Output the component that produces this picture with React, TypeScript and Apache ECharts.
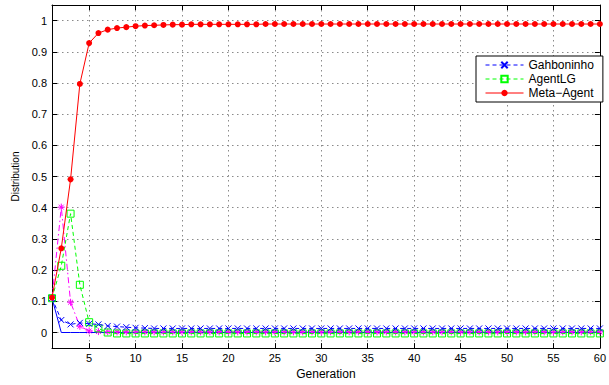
import React, { useEffect, useRef } from "react";
import * as echarts from "echarts";

const generations = [
  1, 2, 3, 4, 5, 6, 7, 8, 9, 10, 11, 12, 13, 14, 15, 16, 17, 18, 19, 20,
  21, 22, 23, 24, 25, 26, 27, 28, 29, 30, 31, 32, 33, 34, 35, 36, 37, 38, 39, 40,
  41, 42, 43, 44, 45, 46, 47, 48, 49, 50, 51, 52, 53, 54, 55, 56, 57, 58, 59, 60,
];

const metaAgent = [
  0.112, 0.27, 0.491, 0.797, 0.928, 0.96, 0.971, 0.976, 0.979, 0.982, 0.984, 0.985, 0.986, 0.987, 0.987, 0.988, 0.988, 0.988, 0.988, 0.988,
  0.988, 0.988, 0.988, 0.989, 0.989, 0.989, 0.989, 0.989, 0.989, 0.989, 0.989, 0.989, 0.989, 0.989, 0.989, 0.989, 0.989, 0.989, 0.989, 0.989,
  0.989, 0.989, 0.989, 0.989, 0.989, 0.989, 0.989, 0.989, 0.989, 0.989, 0.989, 0.989, 0.989, 0.989, 0.989, 0.989, 0.989, 0.989, 0.989, 0.989,
];

const gahboninho = [
  0.11, 0.04, 0.026, 0.031, 0.028, 0.026, 0.021, 0.019, 0.017, 0.015, 0.014, 0.013, 0.013, 0.013, 0.013, 0.013, 0.013, 0.013, 0.013, 0.013,
  0.013, 0.013, 0.013, 0.013, 0.013, 0.013, 0.013, 0.013, 0.013, 0.013, 0.013, 0.013, 0.013, 0.013, 0.013, 0.013, 0.013, 0.013, 0.013, 0.013,
  0.013, 0.013, 0.013, 0.013, 0.013, 0.013, 0.013, 0.013, 0.013, 0.013, 0.013, 0.013, 0.013, 0.013, 0.013, 0.013, 0.013, 0.013, 0.013, 0.013,
];

const agentLG = [
  0.11, 0.214, 0.381, 0.153, 0.033, 0.013, 0.0, -0.003, -0.003, -0.003, -0.003, -0.003, -0.003, -0.003, -0.003, -0.003, -0.003, -0.003, -0.003, -0.003,
  -0.003, -0.003, -0.003, -0.003, -0.003, -0.003, -0.003, -0.003, -0.003, -0.003, -0.003, -0.003, -0.003, -0.003, -0.003, -0.003, -0.003, -0.003, -0.003, -0.003,
  -0.003, -0.003, -0.003, -0.003, -0.003, -0.003, -0.003, -0.003, -0.003, -0.003, -0.003, -0.003, -0.003, -0.003, -0.003, -0.003, -0.003, -0.003, -0.003, -0.003,
];

const magentaAgent = [
  0.11, 0.402, 0.097, 0.02, 0.005, 0.003, 0.002, 0.002, 0.002, 0.002, 0.002, 0.002, 0.002, 0.002, 0.002, 0.002, 0.002, 0.002, 0.002, 0.002,
  0.002, 0.002, 0.002, 0.002, 0.002, 0.002, 0.002, 0.002, 0.002, 0.002, 0.002, 0.002, 0.002, 0.002, 0.002, 0.002, 0.002, 0.002, 0.002, 0.002,
  0.002, 0.002, 0.002, 0.002, 0.002, 0.002, 0.002, 0.002, 0.002, 0.002, 0.002, 0.002, 0.002, 0.002, 0.002, 0.002, 0.002, 0.002, 0.002, 0.002,
];

const blueSolid = [
  0.11, 0, 0, 0, 0, 0, 0, 0, 0, 0, 0, 0, 0, 0, 0, 0, 0, 0, 0, 0,
  0, 0, 0, 0, 0, 0, 0, 0, 0, 0, 0, 0, 0, 0, 0, 0, 0, 0, 0, 0,
  0, 0, 0, 0, 0, 0, 0, 0, 0, 0, 0, 0, 0, 0, 0, 0, 0, 0, 0, 0,
];

const xTicks = [5, 10, 15, 20, 25, 30, 35, 40, 45, 50, 55, 60];
const yTicks = [0, 0.1, 0.2, 0.3, 0.4, 0.5, 0.6, 0.7, 0.8, 0.9, 1];
const legendNames = ["Gahboninho", "AgentLG", "Meta\u2212Agent"];

const FONT = "'Liberation Sans', Arial, Helvetica, sans-serif";
const X_SYMBOL = "path://M0,0L10,10M10,0L0,10";
const STAR_SYMBOL = "path://M5,0L5,10M0,5L10,5M1.5,1.5L8.5,8.5M8.5,1.5L1.5,8.5";

const pairs = (ys: number[]) => generations.map((g, i) => [g, ys[i]]);

export default function App() {
  const ref = useRef<HTMLDivElement>(null);
  useEffect(() => {
    if (!ref.current) return;
    const chart = echarts.init(ref.current, null, { renderer: "svg" });
    const frameAxisLine = { show: true, onZero: false, lineStyle: { color: "#000", width: 1 } };
    const splitLine = { show: true, lineStyle: { color: "#8a8a8a", type: [1.5, 3.5], width: 1 } };
    chart.setOption({
      animation: false,
      backgroundColor: "#fff",
      grid: { left: 52, right: 2, top: 5, bottom: 29, containLabel: false },
      xAxis: [
        {
          type: "value",
          min: 1,
          max: 60,
          position: "bottom",
          name: "Generation",
          nameLocation: "middle",
          nameGap: 14,
          nameTextStyle: { fontFamily: FONT, fontSize: 12, color: "#000" },
          axisLine: frameAxisLine,
          axisTick: { show: true, inside: true, length: 5, customValues: xTicks, lineStyle: { color: "#000" } },
          axisLabel: { show: true, customValues: xTicks, fontFamily: FONT, fontSize: 11, color: "#000", margin: 4 },
          splitLine,
        },
        {
          type: "value",
          min: 1,
          max: 60,
          position: "top",
          axisLine: frameAxisLine,
          axisTick: { show: true, inside: true, length: 5, customValues: xTicks, lineStyle: { color: "#000" } },
          axisLabel: { show: false },
          splitLine: { show: false },
        },
      ],
      yAxis: [
        {
          type: "value",
          min: -0.05,
          max: 1.05,
          position: "left",
          name: "Distribution",
          nameLocation: "middle",
          nameGap: 28,
          nameTextStyle: { fontFamily: FONT, fontSize: 10, color: "#000" },
          axisLine: frameAxisLine,
          axisTick: { show: true, inside: true, length: 5, customValues: yTicks, lineStyle: { color: "#000" } },
          axisLabel: { show: true, customValues: yTicks, fontFamily: FONT, fontSize: 11, color: "#000", margin: 5 },
          splitLine,
        },
        {
          type: "value",
          min: -0.05,
          max: 1.05,
          position: "right",
          axisLine: frameAxisLine,
          axisTick: { show: true, inside: true, length: 5, customValues: yTicks, lineStyle: { color: "#000" } },
          axisLabel: { show: false },
          splitLine: { show: false },
        },
      ],
      legend: {
        data: legendNames,
        orient: "vertical",
        left: 476,
        top: 56,
        padding: [2, 9, 2, 9],
        itemWidth: 38,
        itemHeight: 8,
        itemGap: 0,
        backgroundColor: "#fff",
        borderColor: "#000",
        borderWidth: 1,
        borderRadius: 0,
        lineStyle: { width: 1 },
        textStyle: { fontFamily: FONT, fontSize: 12, color: "#000", lineHeight: 14 },
        selectedMode: false,
      },
      series: [
        {
          name: "Blue",
          type: "line",
          data: pairs(blueSolid),
          showSymbol: false,
          symbol: "none",
          clip: false,
          color: "#0000ff",
          lineStyle: { color: "#0000ff", width: 1, type: "solid" },
          z: 2,
        },
        {
          name: "Magenta",
          type: "line",
          data: pairs(magentaAgent),
          symbol: STAR_SYMBOL,
          symbolSize: 7,
          clip: false,
          color: "#ff00ff",
          itemStyle: { color: "none", borderColor: "#ff00ff", borderWidth: 1 },
          lineStyle: { color: "#ff00ff", width: 1, type: [6, 3, 1.5, 3] },
          z: 3,
        },
        {
          name: "AgentLG",
          type: "line",
          data: pairs(agentLG),
          symbol: "rect",
          symbolSize: 7,
          clip: false,
          color: "#00ff00",
          itemStyle: { color: "rgba(0,0,0,0)", borderColor: "#00ff00", borderWidth: 1 },
          lineStyle: { color: "#00ff00", width: 1, type: [4, 3] },
          z: 4,
        },
        {
          name: "Gahboninho",
          type: "line",
          data: pairs(gahboninho),
          symbol: X_SYMBOL,
          symbolSize: 6,
          clip: false,
          color: "#0000ff",
          itemStyle: { color: "none", borderColor: "#0000ff", borderWidth: 1 },
          lineStyle: { color: "#0000ff", width: 1, type: [4, 3] },
          z: 5,
        },
        {
          name: "Meta\u2212Agent",
          type: "line",
          data: pairs(metaAgent),
          symbol: "circle",
          symbolSize: 6,
          clip: false,
          color: "#ff0000",
          itemStyle: { color: "#ff0000", borderColor: "#ff0000", borderWidth: 0 },
          lineStyle: { color: "#ff0000", width: 1, type: "solid" },
          z: 6,
        },
      ],
    });
    return () => chart.dispose();
  }, []);
  return (
    <div
      ref={ref}
      style={{ position: "fixed", left: 0, top: 0, width: 609, height: 385, background: "#fff" }}
    />
  );
}
